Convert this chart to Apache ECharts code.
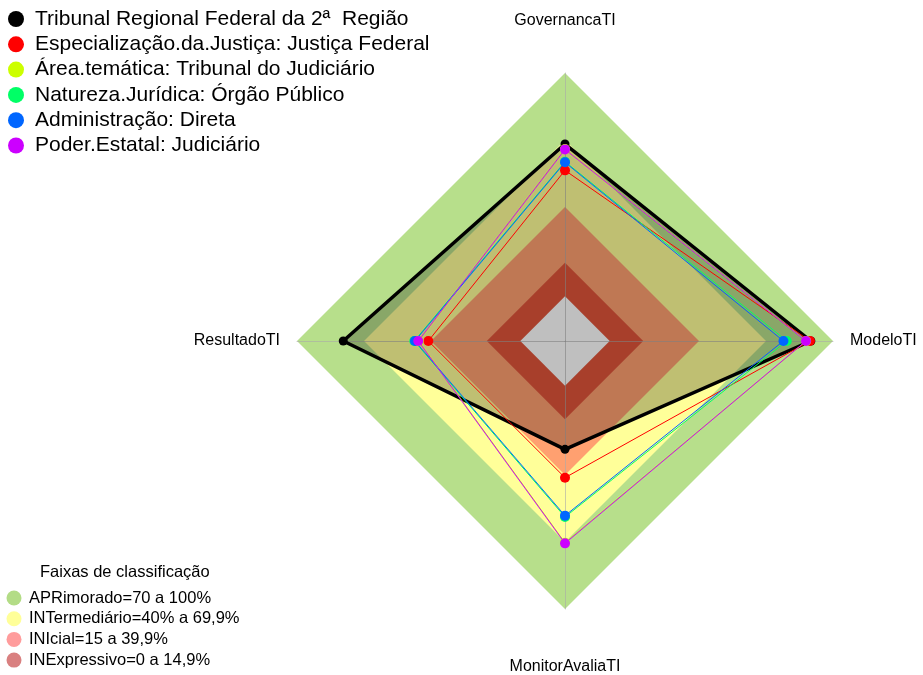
<!DOCTYPE html>
<html>
<head>
<meta charset="utf-8">
<script src="https://cdn.jsdelivr.net/npm/echarts@6/dist/echarts.min.js"></script>
<style>
  html, body { margin: 0; padding: 0; background: #fff; }
  #chart { width: 923px; height: 675px; }
</style>
</head>
<body>
<div id="chart"></div>
<script>
// eixos (ordem anti-horaria do echarts: topo, esquerda, baixo, direita)
var indicadores = ['GovernancaTI', 'ResultadoTI', 'MonitorAvaliaTI', 'ModeloTI'];

var nomesSeries = [
  'Tribunal Regional Federal da 2ª  Região',
  'Especialização.da.Justiça: Justiça Federal',
  'Área.temática: Tribunal do Judiciário',
  'Natureza.Jurídica: Órgão Público',
  'Administração: Direta',
  'Poder.Estatal: Judiciário'
];
var coresSeries = ['#000000', '#ff0000', '#ccff00', '#00ff66', '#0066ff', '#cc00ff'];

var valTribunal   = [68.2, 79.3, 28.5, 90.1];
var valEspecial   = [56.4, 41.2, 41.2, 89.7];
var valArea       = [66.0, 45.5, 70.3, 88.0];
var valNatureza   = [60.3, 47.5, 58.8, 79.3];
var valAdmin      = [60.0, 47.2, 58.2, 77.8];
var valPoder      = [65.8, 45.7, 70.6, 87.9];
var valores = [valTribunal, valEspecial, valArea, valNatureza, valAdmin, valPoder];

// faixas de classificacao
var nomesFaixas = ['APRimorado=70 a 100%', 'INTermediário=40% a 69,9%', 'INIcial=15 a 39,9%', 'INExpressivo=0 a 14,9%'];
var limitesFaixas = [100, 70, 40, 15, 0];
var coresFaixas = ['#b7df8b', '#ffff99', '#ffa070', '#e0553a', '#ffffff'];
var coresLegendaFaixas = ['#b3dc86', '#ffff99', '#ff9c9c', '#d98080'];

var chart = echarts.init(document.getElementById('chart'));

var series = [];

// faixas de fundo
limitesFaixas.forEach(function (lim, i) {
  series.push({
    type: 'radar',
    name: i < nomesFaixas.length ? nomesFaixas[i] : 'base',
    z: 1,
    silent: true,
    symbol: 'none',
    itemStyle: { color: i < coresLegendaFaixas.length ? coresLegendaFaixas[i] : '#fff' },
    lineStyle: { width: 0, opacity: 0 },
    areaStyle: { color: coresFaixas[i], opacity: 1 },
    data: [{ value: [lim, lim, lim, lim] }]
  });
});

// series de dados
nomesSeries.forEach(function (nome, i) {
  var s = {
    type: 'radar',
    name: nome,
    z: 3,
    symbol: 'circle',
    symbolSize: i === 0 ? 9 : 10,
    itemStyle: { color: coresSeries[i] },
    lineStyle: { color: coresSeries[i], width: i === 0 ? 3.5 : 1 },
    data: [{ value: valores[i] }]
  };
  if (i === 0) {
    s.areaStyle = { color: 'rgba(0,0,0,0.25)', opacity: 1 };
  }
  series.push(s);
});

chart.setOption({
  animation: false,
  title: {
    text: 'Faixas de classificação',
    left: 35,
    top: 559,
    textStyle: { fontFamily: 'Liberation Sans', fontSize: 16.5, fontWeight: 'normal', color: '#000' }
  },
  legend: [{
    data: nomesSeries,
    orient: 'vertical',
    left: 3,
    top: 3.5,
    icon: 'circle',
    itemWidth: 28,
    itemHeight: 16,
    itemGap: 4.3,
    textStyle: { fontFamily: 'Liberation Sans', fontSize: 21, lineHeight: 21, color: '#000' },
    selectedMode: false
  }, {
    data: nomesFaixas.map(function (n, i) {
      return { name: n, itemStyle: { color: coresLegendaFaixas[i] } };
    }),
    orient: 'vertical',
    left: 1.5,
    top: 584.5,
    icon: 'circle',
    itemWidth: 20,
    itemHeight: 15,
    itemGap: 3.7,
    textStyle: { fontFamily: 'Liberation Sans', fontSize: 16.5, lineHeight: 16.5, color: '#000' },
    selectedMode: false
  }],
  radar: {
    center: [565, 341],
    radius: 268,
    shape: 'polygon',
    startAngle: 90,
    z: 2,
    nameGap: 17,
    indicator: indicadores.map(function (n) { return { name: n, min: -20, max: 100 }; }),
    axisName: {
      color: '#000',
      fontFamily: 'Liberation Sans',
      fontSize: 16,
      formatter: function (v) {
        if (v === 'GovernancaTI') return '{topo|' + v + '}';
        if (v === 'MonitorAvaliaTI') return '{base|' + v + '}';
        return v;
      },
      rich: {
        topo: { padding: [0, 0, 27, 0], fontSize: 16, fontFamily: 'Liberation Sans', color: '#000' },
        base: { padding: [33, 0, 0, 0], fontSize: 16, fontFamily: 'Liberation Sans', color: '#000' }
      }
    },
    splitNumber: 1,
    splitLine: { show: false },
    splitArea: { show: false },
    axisLine: { lineStyle: { color: 'rgba(170,170,170,0.6)', width: 1 } },
    axisTick: { show: false },
    axisLabel: { show: false }
  },
  series: series
});
</script>
</body>
</html>
